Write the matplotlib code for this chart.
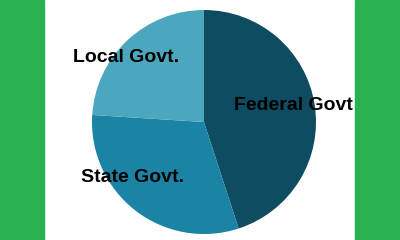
import matplotlib.pyplot as plt
from matplotlib.patches import Rectangle

# share of spending by level of government
labels = ["Federal Govt", "State Govt.", "Local Govt."]
shares = [45, 31, 24]
colors = ["#0e4d61", "#1a83a6", "#4ba7be"]
label_pos = [(0.795, 0.15), (-0.635, -0.5), (-0.70, 0.58)]

fig = plt.figure(figsize=(4, 2.4), dpi=100)
fig.patch.set_facecolor("white")

# green side bands
fig.patches.append(Rectangle((0, 0), 44 / 400, 1, transform=fig.transFigure,
                             color="#27b24f", zorder=0))
fig.patches.append(Rectangle((355 / 400, 0), 45 / 400, 1, transform=fig.transFigure,
                             color="#27b24f", zorder=0))

ax = fig.add_axes([(204 - 112) / 400, 6 / 240, 224 / 400, 224 / 240])
ax.pie(shares, colors=colors, startangle=90, counterclock=False,
       wedgeprops={"linewidth": 0})
ax.set_xlim(-1, 1)
ax.set_ylim(-1, 1)
ax.axis("off")

for lab, (x, y) in zip(labels, label_pos):
    ax.text(x, y, lab, ha="center", va="center", fontsize=14,
            fontweight="bold", family="Liberation Sans", color="black",
            clip_on=False)

fig.savefig("out.png", dpi=100)
